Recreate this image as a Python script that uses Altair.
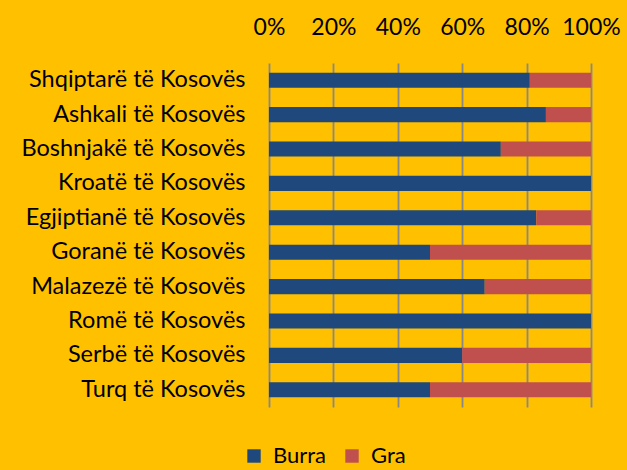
import altair as alt
import pandas as pd

groups = ["Shqiptarë të Kosovës", "Ashkali të Kosovës", "Boshnjakë të Kosovës",
          "Kroatë të Kosovës\u00a0", "Egjiptianë të Kosovës\u00a0", "Goranë të Kosovës",
          "Malazezë të Kosovës", "Romë të Kosovës\u00a0", "Serbë të Kosovës", "Turq të Kosovës"]
burra = [81, 86, 72, 100, 83, 50, 67, 100, 60, 50]
gra = [19, 14, 28, 0, 17, 50, 33, 0, 40, 50]
series = ["Burra", "Gra"]
colors = ["#1F497D", "#C0504D"]

rows = []
for g, b, f in zip(groups, burra, gra):
    rows.append({"grupi": g, "seria": "Burra", "vlera": b, "rendi": 0})
    rows.append({"grupi": g, "seria": "Gra", "vlera": f, "rendi": 1})
df = pd.DataFrame(rows)

FONT = "Lato"

chart = alt.Chart(df).mark_bar().encode(
    y=alt.Y("grupi:N", sort=groups, title=None,
            scale=alt.Scale(paddingInner=0.56, paddingOuter=0.28),
            axis=alt.Axis(domain=False, ticks=False, labelPadding=24, labelFontSize=23.5,
                          labelFont=FONT, labelColor="#000000", labelLimit=300)),
    x=alt.X("vlera:Q", stack="normalize", title=None,
            scale=alt.Scale(domain=[0, 1], nice=False),
            axis=alt.Axis(orient="top", values=[0, 0.2, 0.4, 0.6, 0.8, 1.0], format=".0%",
                          domain=False, ticks=False, grid=True, gridColor="#888888",
                          gridWidth=1.8, labelPadding=24, labelFontSize=23, labelFont=FONT,
                          labelColor="#000000", labelFlush=False)),
    color=alt.Color("seria:N", scale=alt.Scale(domain=series, range=colors),
                    legend=alt.Legend(title=None, orient="none", legendX=-26, legendY=382,
                                      direction="horizontal", symbolType="square",
                                      symbolSize=180, symbolStrokeWidth=0, labelOffset=8,
                                      labelFontSize=22, labelFont=FONT, labelColor="#000000",
                                      columnPadding=14, symbolOpacity=1)),
    order=alt.Order("rendi:Q"),
).properties(
    width=322, height=344,
    autosize=alt.AutoSizeParams(type="none"),
    padding={"left": 269, "top": 63, "right": 36, "bottom": 63},
    background="#FFC000",
).configure_view(stroke=None)

chart.save("out.html", embed_options={"renderer": "svg", "actions": False})
